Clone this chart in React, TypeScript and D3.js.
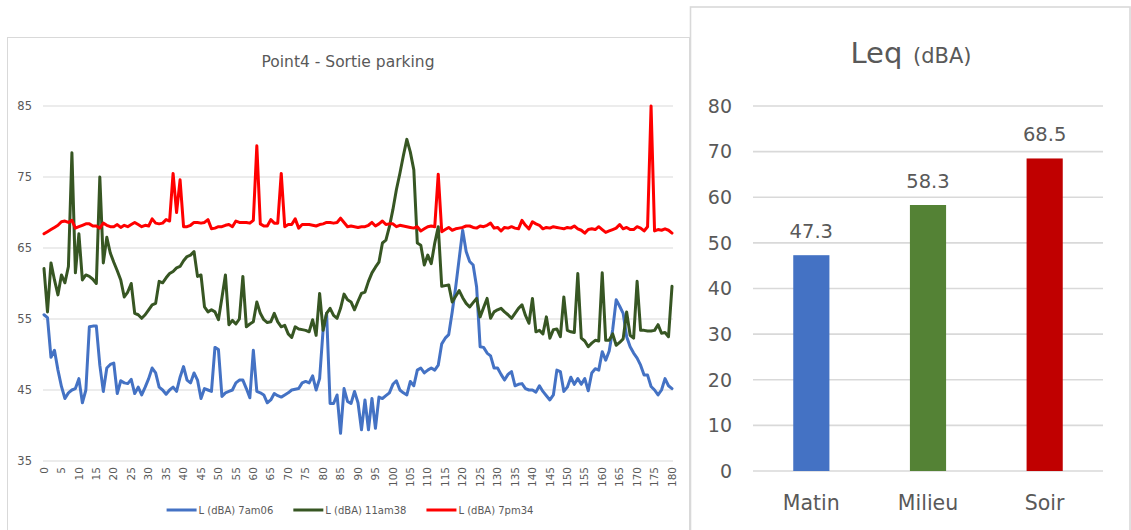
import React, { useEffect, useRef } from 'react';
import * as d3 from 'd3';

// ---------- Left chart data: Point4 - Sortie parking ----------
const blue7am06 = [
  55.6, 55.2, 49.6, 50.6, 47.8, 45.5, 43.8, 44.6, 45.0, 45.2,
  46.6, 43.2, 45.0, 53.9, 54.0, 54.0, 48.5, 44.8, 48.1, 48.6,
  48.8, 44.5, 46.3, 46.0, 45.9, 46.5, 44.5, 45.4, 44.3, 45.4,
  46.6, 48.1, 47.4, 45.4, 45.0, 44.4, 45.0, 45.4, 44.8, 46.8,
  48.3, 46.4, 46.0, 47.4, 46.4, 43.8, 45.2, 45.0, 44.8, 51.0,
  50.7, 44.1, 44.6, 44.8, 45.0, 46.0, 46.4, 46.4, 45.2, 43.9,
  50.6, 44.8, 44.6, 44.3, 43.2, 43.6, 44.5, 44.2, 44.0, 44.3,
  44.6, 45.0, 45.1, 45.2, 46.0, 46.2, 46.0, 47.0, 45.0, 46.6,
  53.5, 55.8, 43.1, 43.1, 44.3, 38.9, 45.2, 43.4, 43.1, 44.8,
  43.2, 39.4, 43.6, 39.4, 43.8, 39.6, 44.0, 43.8, 44.2, 44.6,
  45.8, 46.3, 45.0, 44.6, 44.3, 46.2, 45.6, 47.8, 48.1, 47.4,
  47.8, 48.1, 47.8, 48.5, 51.5, 52.3, 52.8, 56.0, 59.5, 63.5,
  67.5, 64.5, 63.1, 62.6, 59.5, 51.1, 51.0, 50.2, 49.8, 48.1,
  48.1, 47.2, 46.4, 47.2, 47.6, 45.6, 45.8, 45.9, 45.2, 45.0,
  45.0, 44.7, 45.6, 44.8, 44.2, 43.6, 44.3, 47.8, 47.6, 44.8,
  45.4, 46.8, 45.8, 46.6, 45.8, 46.6, 44.9, 47.4, 48.0, 47.8,
  50.4, 49.2, 50.5, 53.5, 57.7, 56.8, 55.8, 52.5, 51.1, 50.2,
  49.5, 48.5, 47.1, 47.1, 45.5, 45.0, 44.3, 45.0, 46.6, 45.6, 45.2,
];

const green11am38 = [
  62.1, 56.0, 62.9, 60.5, 58.4, 61.2, 60.1, 62.4, 78.4, 61.5,
  67.0, 60.5, 61.2, 61.0, 60.6, 60.0, 75.0, 62.9, 66.5, 64.3,
  63.0, 61.8, 60.5, 58.1, 58.8, 60.0, 55.8, 55.6, 55.1, 55.6,
  56.3, 57.0, 57.2, 60.3, 60.1, 60.8, 61.4, 61.7, 62.2, 62.4,
  63.2, 63.8, 64.0, 64.5, 61.0, 61.2, 56.7, 56.0, 56.3, 56.0,
  54.9, 58.0, 61.2, 54.2, 54.8, 54.3, 55.0, 61.0, 53.9, 54.3,
  54.6, 57.4, 55.8, 54.9, 54.5, 54.6, 55.8, 54.6, 53.9, 54.1,
  52.9, 52.4, 53.9, 53.6, 53.5, 53.4, 53.2, 54.9, 52.7, 58.6,
  53.4, 55.8, 56.5, 55.5, 55.1, 56.5, 58.5, 57.7, 57.4, 56.3,
  57.5, 58.6, 58.8, 60.3, 61.5, 62.3, 63.0, 65.7, 66.1, 68.0,
  70.4, 73.2, 75.5, 78.0, 80.3, 78.5, 76.0, 65.7, 65.4, 62.6,
  64.0, 62.8, 65.7, 68.0, 59.6, 59.7, 59.8, 57.4, 58.2, 59.0,
  58.0, 57.2, 56.7, 57.3, 57.9, 55.3, 56.6, 57.9, 55.1, 56.0,
  56.3, 56.5, 56.0, 55.6, 55.1, 55.8, 56.5, 57.0, 55.5, 54.4,
  57.9, 53.2, 53.4, 52.9, 55.3, 52.3, 53.5, 53.6, 52.5, 58.1,
  53.4, 53.2, 53.1, 61.4, 52.3, 51.9, 51.1, 51.6, 52.0, 51.9,
  61.5, 52.0, 52.0, 52.9, 51.3, 51.7, 52.2, 56.0, 52.7, 52.3,
  60.3, 53.4, 53.4, 53.3, 53.3, 53.4, 54.2, 53.0, 53.1, 52.5, 59.6,
];

const red7pm34 = [
  67.0, 67.3, 67.6, 67.9, 68.2, 68.7, 68.8, 68.6, 68.9, 67.8,
  68.0, 68.2, 68.4, 68.4, 68.1, 68.1, 67.8, 68.5, 68.2, 68.0,
  68.0, 68.3, 67.9, 68.2, 68.0, 68.3, 68.6, 68.3, 68.0, 68.2,
  68.1, 69.1, 68.5, 68.4, 68.5, 69.0, 68.8, 75.5, 70.0, 74.6,
  68.0, 68.0, 68.2, 68.6, 68.6, 68.5, 68.6, 69.0, 67.7, 67.8,
  68.0, 68.0, 68.2, 68.3, 68.0, 68.8, 68.6, 68.6, 68.6, 68.5,
  68.9, 79.4, 68.4, 68.1, 68.1, 69.0, 68.5, 68.5, 75.5, 68.0,
  68.3, 68.3, 69.1, 67.8, 68.3, 68.3, 68.3, 68.2, 68.1, 68.3,
  68.4, 68.6, 68.6, 68.5, 68.6, 69.2, 68.6, 68.0, 68.1, 68.0,
  67.9, 68.0, 68.0, 68.2, 68.6, 68.1, 68.4, 68.8, 68.3, 68.4,
  68.4, 68.0, 68.2, 68.1, 68.0, 67.9, 67.8, 68.0, 67.4, 67.7,
  68.0, 68.1, 68.0, 75.4, 67.3, 67.6, 67.9, 67.5, 67.7, 67.8,
  67.9, 68.1, 68.1, 67.9, 67.8, 68.1, 68.0, 68.2, 68.5, 67.8,
  67.9, 67.4, 67.9, 67.8, 68.0, 67.8, 67.7, 68.9, 68.2, 67.7,
  68.7, 68.4, 68.2, 67.7, 67.9, 67.8, 68.0, 67.9, 67.8, 67.7,
  67.9, 67.8, 68.1, 67.7, 67.5, 67.1, 67.6, 67.7, 67.6, 68.0,
  67.6, 67.2, 67.4, 67.6, 67.8, 68.3, 67.7, 67.9, 67.6, 67.6,
  68.0, 67.8, 67.4, 68.0, 85.0, 67.4, 67.6, 67.5, 67.7, 67.5, 67.1,
];

const lineSeriesNames = ['L (dBA) 7am06', 'L (dBA) 11am38', 'L (dBA) 7pm34'];
const lineSeriesColors = ['#4472C4', '#375623', '#FF0000'];
const leftTitle = 'Point4 - Sortie parking';
const leftYTicks = [35, 45, 55, 65, 75, 85];
const leftXTicks = d3.range(0, 181, 5);

// ---------- Right chart data: Leq ----------
const leqCategories = ['Matin', 'Milieu', 'Soir'];
const leqValues = [47.3, 58.3, 68.5];
const leqColors = ['#4472C4', '#548235', '#C00000'];
const rightYTicks = [0, 10, 20, 30, 40, 50, 60, 70, 80];

const FONT = "'DejaVu Sans', sans-serif";
const TEXT = '#595959';
const GRID = '#d9d9d9';

export default function App() {
  const ref = useRef<SVGSVGElement>(null);

  useEffect(() => {
    const svg = d3.select(ref.current);
    svg.selectAll('*').remove();

    svg.append('rect').attr('width', 1131).attr('height', 530).attr('fill', '#fff');

    // ===== Left panel =====
    svg.append('rect')
      .attr('x', 7.5).attr('y', 37.5).attr('width', 682).attr('height', 520)
      .attr('fill', '#fff').attr('stroke', GRID).attr('stroke-width', 1);

    const lp = svg.append('g');
    const x = d3.scaleLinear().domain([0, 180]).range([44, 672]);
    const y = d3.scaleLinear().domain([35, 85]).range([461, 106]);

    lp.append('text')
      .attr('x', 348).attr('y', 67)
      .attr('text-anchor', 'middle')
      .attr('font-family', FONT).attr('font-size', 15.5).attr('fill', TEXT)
      .text(leftTitle);

    lp.selectAll('line.grid').data(leftYTicks).enter().append('line')
      .attr('x1', 43).attr('x2', 673)
      .attr('y1', (d) => y(d)).attr('y2', (d) => y(d))
      .attr('stroke', GRID).attr('stroke-width', 1.2);

    lp.selectAll('text.yt').data(leftYTicks).enter().append('text')
      .attr('x', 32).attr('y', (d) => y(d))
      .attr('dy', '0.35em')
      .attr('text-anchor', 'end')
      .attr('font-family', FONT).attr('font-size', 11.5).attr('fill', TEXT)
      .text((d) => String(d));

    lp.selectAll('text.xt').data(leftXTicks).enter().append('text')
      .attr('transform', (d) => `translate(${x(d)},467) rotate(-90)`)
      .attr('dy', '0.35em')
      .attr('text-anchor', 'end')
      .attr('font-family', FONT).attr('font-size', 10.5).attr('fill', TEXT)
      .text((d) => String(d));

    const allSeries = [blue7am06, green11am38, red7pm34];
    const line = d3.line<number>()
      .x((_, i) => x(i))
      .y((d) => y(d));
    allSeries.forEach((s, k) => {
      lp.append('path')
        .attr('d', line(s) as string)
        .attr('fill', 'none')
        .attr('stroke', lineSeriesColors[k])
        .attr('stroke-width', 3)
        .attr('stroke-linejoin', 'round')
        .attr('stroke-linecap', 'round');
    });

    // legend
    const lg = lp.append('g');
    let cx = 0;
    lineSeriesNames.forEach((name, k) => {
      const g = lg.append('g').attr('transform', `translate(${cx},0)`);
      g.append('line').attr('x1', 0).attr('x2', 30).attr('y1', 0).attr('y2', 0)
        .attr('stroke', lineSeriesColors[k]).attr('stroke-width', 3);
      const t = g.append('text').attr('x', 32).attr('y', 0).attr('dy', '0.35em')
        .attr('font-family', FONT).attr('font-size', 10).attr('fill', TEXT)
        .text(name);
      const w = (t.node() as SVGTextElement).getComputedTextLength();
      cx += 32 + w + 20;
    });
    const total = cx - 20;
    lg.attr('transform', `translate(${350 - total / 2},510)`);

    // ===== Right panel =====
    svg.append('rect')
      .attr('x', 690.5).attr('y', 7).attr('width', 439.5).attr('height', 560)
      .attr('fill', '#fff').attr('stroke', GRID).attr('stroke-width', 1.6);

    const rp = svg.append('g');
    const xb = d3.scaleBand<string>().domain(leqCategories).range([753, 1103]).padding(0);
    const yb = d3.scaleLinear().domain([0, 80]).range([471, 106]);
    const barW = xb.bandwidth() * 0.31;

    const title = rp.append('text')
      .attr('x', 911).attr('y', 63)
      .attr('text-anchor', 'middle')
      .attr('font-family', FONT).attr('fill', TEXT);
    title.append('tspan').attr('font-size', 29).text('Leq');
    title.append('tspan').attr('font-size', 21).attr('dx', 4).text(' (dBA)');

    rp.selectAll('line.grid').data(rightYTicks).enter().append('line')
      .attr('x1', 753).attr('x2', 1103)
      .attr('y1', (d) => yb(d)).attr('y2', (d) => yb(d))
      .attr('stroke', GRID).attr('stroke-width', 1.6);

    rp.selectAll('text.yt').data(rightYTicks).enter().append('text')
      .attr('x', 732).attr('y', (d) => yb(d))
      .attr('dy', '0.36em')
      .attr('text-anchor', 'end')
      .attr('font-family', FONT).attr('font-size', 19).attr('fill', TEXT)
      .text((d) => String(d));

    rp.selectAll('rect.bar').data(leqValues).enter().append('rect')
      .attr('x', (_, i) => (xb(leqCategories[i]) as number) + xb.bandwidth() / 2 - barW / 2)
      .attr('width', barW)
      .attr('y', (d) => yb(d))
      .attr('height', (d) => yb(0) - yb(d))
      .attr('fill', (_, i) => leqColors[i]);

    rp.selectAll('text.val').data(leqValues).enter().append('text')
      .attr('x', (_, i) => (xb(leqCategories[i]) as number) + xb.bandwidth() / 2)
      .attr('y', (d) => yb(d) - 17.5)
      .attr('text-anchor', 'middle')
      .attr('font-family', FONT).attr('font-size', 19.5).attr('fill', TEXT)
      .text((d) => d.toFixed(1));

    rp.selectAll('text.cat').data(leqCategories).enter().append('text')
      .attr('x', (d) => (xb(d) as number) + xb.bandwidth() / 2)
      .attr('y', 510)
      .attr('text-anchor', 'middle')
      .attr('font-family', FONT).attr('font-size', 20.5).attr('fill', TEXT)
      .text((d) => d);
  }, []);

  return (
    <svg
      ref={ref}
      width={1131}
      height={530}
      style={{ position: 'absolute', left: 0, top: 0, display: 'block' }}
    />
  );
}
